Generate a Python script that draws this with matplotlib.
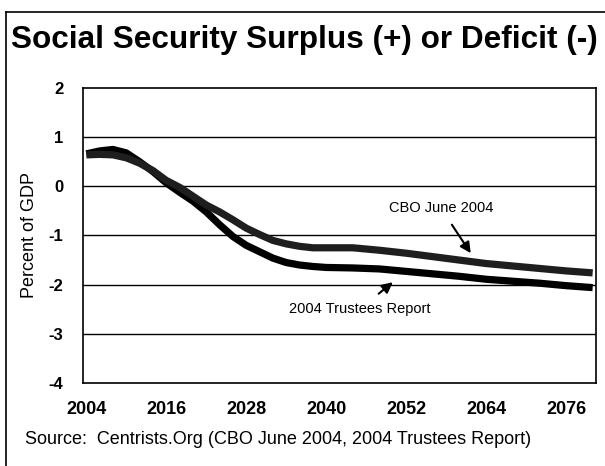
import matplotlib
matplotlib.use("Agg")
import matplotlib.pyplot as plt
from matplotlib.lines import Line2D

plt.rcParams["font.family"] = ["Liberation Sans", "DejaVu Sans"]
plt.rcParams["axes.unicode_minus"] = False

# projections, percent of GDP
years = [2004, 2006, 2008, 2010, 2012, 2014, 2016, 2018, 2020, 2022, 2024, 2026,
         2028, 2030, 2032, 2034, 2036, 2038, 2040, 2044, 2048, 2052, 2056, 2060,
         2064, 2068, 2072, 2076, 2080]
trustees = [0.66, 0.72, 0.75, 0.68, 0.50, 0.30, 0.07, -0.12, -0.30, -0.52, -0.78, -1.02,
            -1.20, -1.33, -1.46, -1.55, -1.60, -1.63, -1.65, -1.66, -1.68, -1.73, -1.78, -1.83,
            -1.89, -1.93, -1.97, -2.02, -2.06]
cbo = [0.64, 0.65, 0.64, 0.58, 0.47, 0.32, 0.12, -0.02, -0.20, -0.38, -0.52, -0.68,
       -0.85, -0.98, -1.10, -1.17, -1.22, -1.25, -1.25, -1.25, -1.30, -1.36, -1.43, -1.50,
       -1.57, -1.62, -1.67, -1.72, -1.76]

xticks = [2004, 2016, 2028, 2040, 2052, 2064, 2076]
yticks = [2, 1, 0, -1, -2, -3, -4]

W, H = 605, 466
fig = plt.figure(figsize=(W / 100, H / 100), dpi=100)
ax = fig.add_axes([83 / W, 1 - 383 / H, (596 - 83) / W, (383 - 88) / H])

for y in yticks[1:-1]:
    ax.axhline(y, color="black", lw=1.0, zorder=1)

ax.plot(years, trustees, color="black", lw=5.2, solid_capstyle="butt", zorder=3)
ax.plot(years, cbo, color="#1e1e1e", lw=5.2, solid_capstyle="butt", zorder=4)

ax.set_xlim(2003.5, 2080.5)
ax.set_ylim(-4, 2)
ax.set_xticks(xticks)
ax.set_yticks(yticks)
ax.tick_params(length=0)
ax.tick_params(axis="x", pad=13, labelsize=13)
ax.tick_params(axis="y", pad=14, labelsize=12)
for lab in ax.get_xticklabels() + ax.get_yticklabels():
    lab.set_fontweight("bold")
for s in ax.spines.values():
    s.set_linewidth(1.2)

ax.set_ylabel("Percent of GDP", fontsize=13)
ax.yaxis.set_label_coords((38 - 83) / 513, 0.5)

ax.annotate("CBO June 2004", xy=(2061.7, -1.36), xytext=(2057.2, -0.44),
            ha="center", va="center", fontsize=10.5,
            arrowprops=dict(arrowstyle="-|>", color="black", lw=1.5,
                            mutation_scale=16, shrinkA=6, shrinkB=0))
ax.annotate("2004 Trustees Report", xy=(2050.0, -1.95), xytext=(2045.1, -2.49),
            ha="center", va="center", fontsize=10.5,
            arrowprops=dict(arrowstyle="-|>", color="black", lw=1.5,
                            mutation_scale=16, shrinkA=6, shrinkB=0))

fig.text(304 / W, 1 - 40 / H, "Social Security Surplus (+) or Deficit (-)",
         ha="center", va="center", fontsize=22.7, fontweight="bold")
fig.text(25 / W, 1 - 440 / H, "Source:  Centrists.Org (CBO June 2004, 2004 Trustees Report)",
         ha="left", va="center", fontsize=13)

# outer frame (top and left visible)
fig.add_artist(Line2D([6 / W, 1.0], [1 - 12 / H, 1 - 12 / H], color="black", lw=1.2,
                      transform=fig.transFigure))
fig.add_artist(Line2D([6 / W, 6 / W], [1 - 12 / H, 0.0], color="black", lw=1.2,
                      transform=fig.transFigure))

fig.savefig("out.png", dpi=100)
